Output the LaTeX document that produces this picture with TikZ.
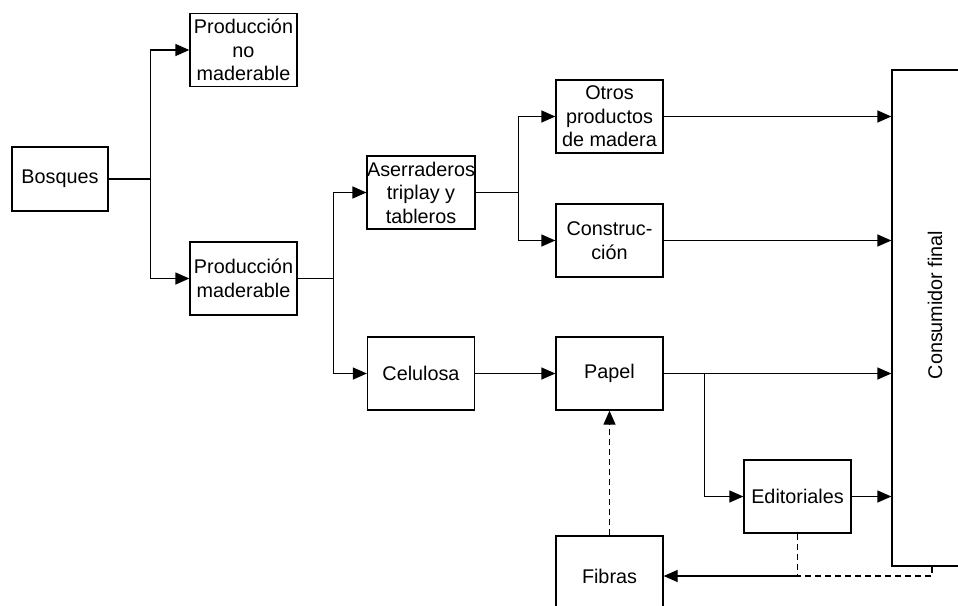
\documentclass[tikz,border=0pt]{standalone}
\usepackage{fontspec}
\setmainfont{Liberation Sans}
\usetikzlibrary{arrows.meta}

\begin{document}
\begin{tikzpicture}[>={Triangle[length=14pt,width=12pt]},x=1pt,y=-1pt,line width=1.3pt]
\tikzset{
	box/.style={draw,align=center,inner sep=0pt,minimum width=107pt,minimum height=73pt,
		font=\fontsize{19.8}{23.5}\selectfont},
	back/.style={dashed,dash pattern=on 6pt off 4pt}
}
\useasboundingbox (0,0) rectangle (958,605);
% cadena de la madera
\node[box,minimum width=96pt,minimum height=64pt](bosq) at (60,179) {Bosques};
\node[box](pnm) at (243.5,50) {Producci\'on\\no\\maderable};
\node[box](pm) at (243.5,278.5) {Producci\'on\\maderable};
\node[box](aser) at (421,192.5) {Aserraderos\\triplay y\\tableros};
\node[box](celu) at (421,373.5) {Celulosa};
\node[box](otros) at (609.5,116.5) {Otros\\productos\\de madera};
\node[box](constr) at (609.5,240.5) {Construc-\\ci\'on};
\node[box](papel) at (609.5,373.5) {Papel};
\node[box](edit) at (797.5,496.5) {Editoriales};
\node[box,minimum height=80pt](fib) at (609.5,576) {Fibras};
\node[box,minimum width=90pt,minimum height=496pt](cons) at (937,318) {};
\node[rotate=90,font=\fontsize{19.8}{23.5}\selectfont](consl) at (935,305) {Consumidor final};

\draw (bosq.east) -- ++(42,0) coordinate (j1);
\draw[->] (j1) |- (pnm.west);
\draw[->] (j1) |- (pm.west);
\draw (pm.east) -- ++(36,0) coordinate (j2);
\draw[->] (j2) |- (aser.west);
\draw[->] (j2) |- (celu.west);
\draw (aser.east) -- ++(43,0) coordinate (j3);
\draw[->] (j3) |- (otros.west);
\draw[->] (j3) |- (constr.west);
\draw[->] (celu) -- (papel);
\draw[->] (otros.east) -- (otros.east -| cons.west);
\draw[->] (constr.east) -- (constr.east -| cons.west);
\draw[->] (papel.east) -- (papel.east -| cons.west);
\path (papel.east) -- ++(41,0) coordinate (j4);
\draw[->] (j4) |- (edit.west);
\draw[->] (edit.east) -- (edit.east -| cons.west);
% reciclaje
\coordinate (j5) at (edit.south |- fib.east);
\draw[back] (edit.south) -- (j5);
\draw[back] ([xshift=-5pt]cons.south) |- (j5);
\draw[->] (j5) -- (fib.east);
\draw[->,back] (fib.north) -- (papel.south);
\end{tikzpicture}
\end{document}
